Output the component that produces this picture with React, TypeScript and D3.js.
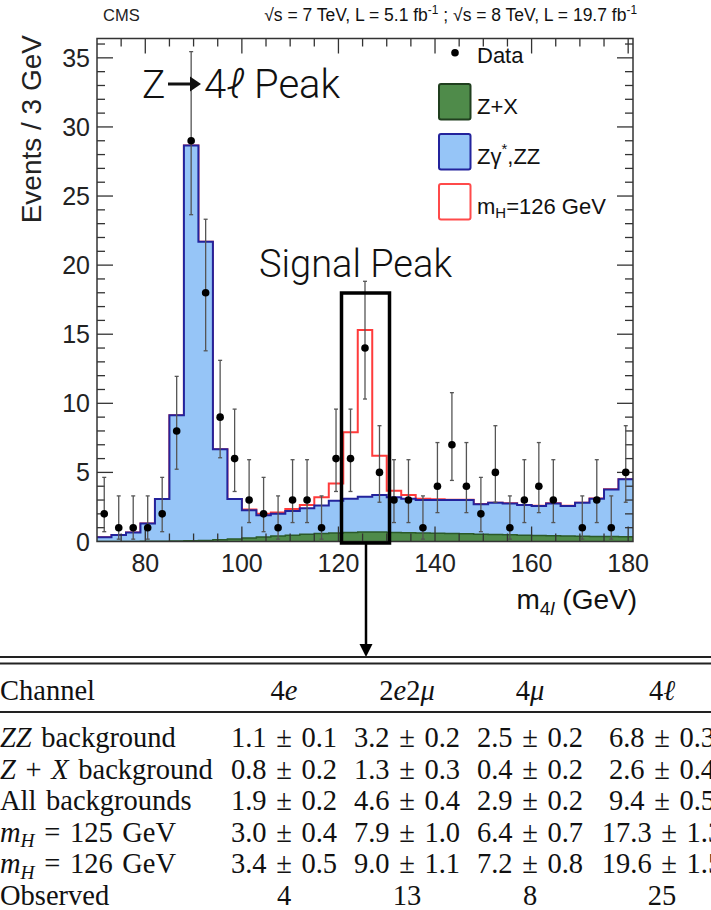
import React, { useEffect, useRef } from 'react';
import * as d3 from 'd3';

// 3 GeV bins from 70 to 181 GeV
const binLow = 70;
const binWidth = 3;

// Expected events per bin, stacked: Z+X, then Zgamma*/ZZ, then the 126 GeV Higgs signal
const zxBkg = [0, 0, 0, 0.01, 0.02, 0.03, 0.05, 0.08, 0.12, 0.18, 0.26, 0.33, 0.4, 0.46, 0.52, 0.58, 0.62, 0.66, 0.68, 0.68, 0.66, 0.64, 0.62, 0.6, 0.58, 0.56, 0.53, 0.5, 0.48, 0.46, 0.44, 0.42, 0.4, 0.38, 0.37, 0.36, 0.35];
const zzBkg = [0.3, 0.47, 0.66, 1.29, 3.05, 9.11, 28.6, 21.62, 6.56, 2.89, 2.0, 1.57, 1.6, 1.74, 1.88, 2.02, 2.33, 2.44, 2.56, 2.68, 2.54, 2.46, 2.38, 2.4, 2.42, 2.44, 2.17, 2.3, 2.27, 2.18, 2.13, 2.33, 2.17, 2.42, 2.73, 3.41, 4.15];
const higgs126 = [0, 0, 0, 0, 0, 0, 0, 0, 0, 0, 0.05, 0.1, 0.1, 0.15, 0.25, 0.6, 1.25, 4.8, 12.06, 2.84, 0.47, 0.26, 0.1, 0.05, 0.03, 0.02, 0.02, 0.01, 0.01, 0.01, 0.01, 0.01, 0.01, 0.01, 0.01, 0.01, 0.01];

// Observed counts with their asymmetric Poisson intervals
const observed = [2, 1, 1, 1, 2, 8, 29, 18, 9, 6, 3, 2, 1, 3, 3, 1, 6, 6, 14, 5, 3, 3, 1, 4, 7, 4, 2, 5, 1, 3, 4, 3, 0, 1, 3, 1, 5];
const observedLo = [0.71, 0.17, 0.17, 0.17, 0.71, 5.23, 23.65, 13.8, 6.06, 3.62, 1.37, 0.71, 0.17, 1.37, 1.37, 0.17, 3.62, 3.62, 10.31, 2.84, 1.37, 1.37, 0.17, 2.09, 4.42, 2.09, 0.71, 2.84, 0.17, 1.37, 2.09, 1.37, 0, 0.17, 1.37, 0.17, 2.84];
const observedHi = [4.64, 3.3, 3.3, 3.3, 4.64, 11.95, 35.45, 23.32, 13.11, 9.58, 5.92, 4.64, 3.3, 5.92, 5.92, 3.3, 9.58, 9.58, 18.83, 8.38, 5.92, 5.92, 3.3, 7.16, 10.77, 7.16, 4.64, 8.38, 3.3, 5.92, 7.16, 5.92, 1.84, 3.3, 5.92, 3.3, 8.38];

const xTicks = [80, 100, 120, 140, 160, 180];
const yTicks = [0, 5, 10, 15, 20, 25, 30, 35];

// Yields table
const channels = ['4e', '2e2μ', '4μ', '4ℓ'];
const zzRow = ['1.1 ± 0.1', '3.2 ± 0.2', '2.5 ± 0.2', '6.8 ± 0.3'];
const zxRow = ['0.8 ± 0.2', '1.3 ± 0.3', '0.4 ± 0.2', '2.6 ± 0.4'];
const allBkgRow = ['1.9 ± 0.2', '4.6 ± 0.4', '2.9 ± 0.2', '9.4 ± 0.5'];
const mh125Row = ['3.0 ± 0.4', '7.9 ± 1.0', '6.4 ± 0.7', '17.3 ± 1.3'];
const mh126Row = ['3.4 ± 0.5', '9.0 ± 1.1', '7.2 ± 0.8', '19.6 ± 1.5'];
const observedRow = ['4', '13', '8', '25'];

type Seg = { t: string; it?: boolean; sub?: boolean; sup?: boolean };

const SANS = '"Liberation Sans", Arial, sans-serif';
const SERIF = '"Liberation Serif", "Times New Roman", serif';
const LIGHT = 'Roboto, "Liberation Sans", sans-serif';

// text with italic / sub / superscript pieces
function richText(parent: any, x: number, y: number, segs: Seg[], size: number, family: string, anchor = 'start') {
  const t = parent.append('text')
    .attr('x', x)
    .attr('y', y)
    .attr('font-size', size)
    .attr('font-family', family)
    .attr('text-anchor', anchor)
    .attr('fill', '#111');
  let shift = 0;
  segs.forEach(s => {
    const target = s.sub ? size * 0.2 : s.sup ? -size * 0.42 : 0;
    const ts = t.append('tspan').attr('dy', target - shift).text(s.t);
    shift = target;
    if (s.it) ts.attr('font-style', 'italic');
    if (s.sub || s.sup) ts.attr('font-size', size * 0.68);
  });
  return t;
}

const App = () => {
  const svgRef = useRef<SVGSVGElement>(null);

  useEffect(() => {
    if (!svgRef.current) return;
    const svg = d3.select(svgRef.current);
    svg.selectAll('*').remove();

    const x = d3.scaleLinear().domain([70, 181]).range([97, 633]);
    const y = d3.scaleLinear().domain([0, 36.4]).range([541.5, 38.5]);

    const nBins = zzBkg.length;
    const edges = d3.range(nBins + 1).map(i => binLow + i * binWidth);
    const centers = d3.range(nBins).map(i => binLow + (i + 0.5) * binWidth);
    const topZX = zxBkg;
    const topBkg = zxBkg.map((v, i) => v + zzBkg[i]);
    const topSig = topBkg.map((v, i) => v + higgs126[i]);

    const steps = (vals: number[]) =>
      [...vals.map((v, i) => [edges[i], v] as [number, number]), [edges[nBins], vals[nBins - 1]] as [number, number]];

    const area = d3.area<[number, number]>()
      .curve(d3.curveStepAfter)
      .x(d => x(d[0]))
      .y0(y(0))
      .y1(d => y(d[1]));
    const line = d3.line<[number, number]>()
      .curve(d3.curveStepAfter)
      .x(d => x(d[0]))
      .y(d => y(d[1]));

    svg.append('rect').attr('width', 711).attr('height', 910).attr('fill', '#fff');

    svg.append('clipPath').attr('id', 'plotClip')
      .append('rect').attr('x', 97).attr('y', 38.5).attr('width', 536).attr('height', 503);

    const plot = svg.append('g').attr('clip-path', 'url(#plotClip)');

    // signal + background outline
    plot.append('path')
      .attr('d', line(steps(topSig)))
      .attr('fill', 'none')
      .attr('stroke', '#ff3b3b')
      .attr('stroke-width', 2);

    // ZZ (stacked on Z+X)
    plot.append('path').attr('d', area(steps(topBkg))).attr('fill', '#96c5f7');
    plot.append('path')
      .attr('d', line(steps(topBkg)))
      .attr('fill', 'none')
      .attr('stroke', '#23239c')
      .attr('stroke-width', 2);

    // Z+X
    plot.append('path').attr('d', area(steps(topZX))).attr('fill', '#4f8b4a');
    plot.append('path')
      .attr('d', line(steps(topZX)))
      .attr('fill', 'none')
      .attr('stroke', '#2b5a28')
      .attr('stroke-width', 1.5);

    // axis ticks, mirrored on all four sides
    const axisCol = '#333';
    const ticks = svg.append('g').attr('stroke', axisCol).attr('stroke-width', 1.3);
    d3.range(75, 181, 5).forEach(v => {
      const major = xTicks.includes(v);
      const len = major ? 15 : 8;
      ticks.append('line').attr('x1', x(v)).attr('x2', x(v)).attr('y1', y(0)).attr('y2', y(0) - len);
      ticks.append('line').attr('x1', x(v)).attr('x2', x(v)).attr('y1', y(36.4)).attr('y2', y(36.4) + len);
    });
    d3.range(1, 37, 1).forEach(v => {
      const major = yTicks.includes(v);
      const len = major ? 16 : 8;
      ticks.append('line').attr('x1', x(70)).attr('x2', x(70) + len).attr('y1', y(v)).attr('y2', y(v));
      ticks.append('line').attr('x1', x(181)).attr('x2', x(181) - len).attr('y1', y(v)).attr('y2', y(v));
    });

    // data with error bars
    const pts = d3.range(nBins).filter(i => observed[i] > 0);
    const err = svg.append('g').attr('stroke', '#555').attr('stroke-width', 1.3);
    pts.forEach(i => {
      const cx = x(centers[i]);
      err.append('line').attr('x1', cx).attr('x2', cx).attr('y1', y(observedLo[i])).attr('y2', y(observedHi[i]));
      err.append('line').attr('x1', cx - 2).attr('x2', cx + 2).attr('y1', y(observedHi[i])).attr('y2', y(observedHi[i]));
      err.append('line').attr('x1', cx - 2).attr('x2', cx + 2).attr('y1', y(observedLo[i])).attr('y2', y(observedLo[i]));
    });
    svg.append('g').selectAll('circle')
      .data(pts)
      .enter()
      .append('circle')
      .attr('cx', i => x(centers[i]))
      .attr('cy', i => y(observed[i]))
      .attr('r', 3.8)
      .attr('fill', '#000');

    // frame
    svg.append('rect')
      .attr('x', x(70)).attr('y', y(36.4))
      .attr('width', x(181) - x(70)).attr('height', y(0) - y(36.4))
      .attr('fill', 'none').attr('stroke', '#333').attr('stroke-width', 1.5);

    // tick labels
    xTicks.forEach(v => {
      svg.append('text')
        .attr('x', x(v)).attr('y', 571.5)
        .attr('text-anchor', 'middle')
        .attr('font-family', SANS).attr('font-size', 25).attr('fill', '#222')
        .text(v);
    });
    yTicks.forEach(v => {
      svg.append('text')
        .attr('x', 90).attr('y', y(v) + 9)
        .attr('text-anchor', 'end')
        .attr('font-family', SANS).attr('font-size', 25).attr('fill', '#222')
        .text(v);
    });

    // axis titles
    richText(svg, 637, 609, [{ t: 'm' }, { t: '4', sub: true }, { t: 'l', sub: true, it: true }, { t: ' (GeV)' }], 28, SANS, 'end');
    svg.append('text')
      .attr('transform', 'translate(41, 35) rotate(-90)')
      .attr('text-anchor', 'end')
      .attr('font-family', SANS).attr('font-size', 28).attr('fill', '#222')
      .text('Events / 3 GeV');

    // header
    svg.append('text')
      .attr('x', 103).attr('y', 21)
      .attr('font-family', SANS).attr('font-size', 16.5).attr('fill', '#222')
      .text('CMS');
    richText(svg, 637, 21, [
      { t: '√s = 7 TeV, L = 5.1 fb' }, { t: '-1', sup: true }, { t: ' ; √s = 8 TeV, L = 19.7 fb' }, { t: '-1', sup: true },
    ], 17.5, SANS, 'end');

    // legend
    const legend = svg.append('g');
    legend.append('circle').attr('cx', 455).attr('cy', 52.7).attr('r', 3.8).attr('fill', '#000');
    richText(legend, 477, 63, [{ t: 'Data' }], 22, SANS);
    const entries = [
      { fill: '#4f8b4a', stroke: '#203f1e', label: [{ t: 'Z+X' }] as Seg[] },
      { fill: '#96c5f7', stroke: '#23239c', label: [{ t: 'Zγ' }, { t: '*', sup: true }, { t: ',ZZ' }] as Seg[] },
      { fill: '#fff', stroke: '#ff4a4a', label: [{ t: 'm' }, { t: 'H', sub: true }, { t: '=126 GeV' }] as Seg[] },
    ];
    entries.forEach((e, k) => {
      const top = 84 + k * 50;
      legend.append('rect')
        .attr('x', 439).attr('y', top).attr('width', 31.5).attr('height', 35.5).attr('rx', 2)
        .attr('fill', e.fill).attr('stroke', e.stroke).attr('stroke-width', 2);
      richText(legend, 477, top + 29.5, e.label, 22, SANS);
    });

    // annotations
    const note = svg.append('g');
    note.append('text')
      .attr('x', 142).attr('y', 98)
      .attr('font-family', LIGHT).attr('font-weight', 300).attr('font-size', 39).attr('fill', '#111')
      .text('Z');
    note.append('line').attr('x1', 168).attr('x2', 192).attr('y1', 84).attr('y2', 84)
      .attr('stroke', '#111').attr('stroke-width', 3);
    note.append('path').attr('d', 'M190,76.5 L201,84 L190,91.5 Z').attr('fill', '#111');
    richText(note, 204, 98, [{ t: '4' }, { t: 'ℓ', it: true }, { t: ' Peak' }], 40, LIGHT)
      .attr('font-weight', 300);
    note.append('text')
      .attr('x', 259).attr('y', 277)
      .attr('font-family', LIGHT).attr('font-weight', 300).attr('font-size', 38).attr('fill', '#111')
      .text('Signal Peak');

    // signal window and pointer to the table
    note.append('rect')
      .attr('x', 341.5).attr('y', 293).attr('width', 48).attr('height', 250)
      .attr('fill', 'none').attr('stroke', '#000').attr('stroke-width', 3.5);
    note.append('line').attr('x1', 366).attr('x2', 366).attr('y1', 543).attr('y2', 647)
      .attr('stroke', '#000').attr('stroke-width', 2.5);
    note.append('path').attr('d', 'M359.5,644 L366,657 L372.5,644 Z').attr('fill', '#000');

    // yields table
    const table = svg.append('g').attr('word-spacing', 2.5);
    const rule = (yy: number) => table.append('rect').attr('x', 0).attr('y', yy).attr('width', 711).attr('height', 2).attr('fill', '#222');
    rule(656);
    rule(662.5);
    rule(711);

    const colX = [284, 407, 530, 662];
    const fs = 28.5;
    const mathSegs = (s: string): Seg[] => s.split('').map(c => ({ t: c, it: /[a-zμℓ]/.test(c) }));

    richText(table, 0, 700, [{ t: 'Channel' }], fs, SERIF);
    channels.forEach((c, j) => richText(table, colX[j], 700, mathSegs(c), fs, SERIF, 'middle'));

    const rowLabels: Seg[][] = [
      [{ t: 'ZZ', it: true }, { t: ' background' }],
      [{ t: 'Z', it: true }, { t: ' + ' }, { t: 'X', it: true }, { t: ' background' }],
      [{ t: 'All backgrounds' }],
      [{ t: 'm', it: true }, { t: 'H', it: true, sub: true }, { t: ' = 125 GeV' }],
      [{ t: 'm', it: true }, { t: 'H', it: true, sub: true }, { t: ' = 126 GeV' }],
      [{ t: 'Observed' }],
    ];
    const rows = [zzRow, zxRow, allBkgRow, mh125Row, mh126Row, observedRow];
    rows.forEach((row, r) => {
      const base = 747 + r * 31.5;
      richText(table, 0, base, rowLabels[r], fs, SERIF);
      row.forEach((cell, j) => richText(table, colX[j], base, [{ t: cell }], fs, SERIF, 'middle'));
    });
  }, []);

  return (
    <svg
      ref={svgRef}
      width={711}
      height={910}
      viewBox="0 0 711 910"
      style={{ position: 'absolute', left: 0, top: 0, background: '#fff' }}
    />
  );
};

export default App;
